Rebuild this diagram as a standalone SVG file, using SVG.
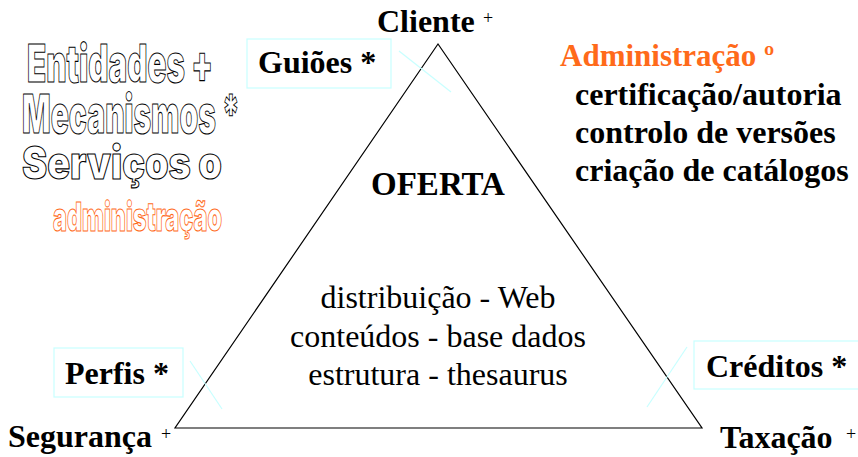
<svg xmlns="http://www.w3.org/2000/svg" width="858" height="457" viewBox="0 0 858 457">
<style>
.box{fill:none;stroke:#c8ffff;stroke-width:1.2}
.cl{stroke:#c8ffff;stroke-width:1.2;fill:none}
</style>
<rect width="858" height="457" fill="#fff"/>
<g id="connectors">
<polygon points="438,44 175,428 702,428" fill="none" stroke="#000" stroke-width="1.2"/>
<line class="cl" x1="399" y1="51" x2="451" y2="92"/>
<line class="cl" x1="190" y1="361" x2="222" y2="409"/>
<line class="cl" x1="687" y1="347" x2="647" y2="407"/>
</g>
<g id="title" font-family="Inter, Liberation Sans, Arial, sans-serif" font-weight="900" fill="#fff" stroke="#000" stroke-width="1.1">
<text x="27" y="82" font-size="52" textLength="186" lengthAdjust="spacingAndGlyphs">Entidades +</text>
<text x="22" y="133" font-size="53" textLength="218" lengthAdjust="spacingAndGlyphs">Mecanismos *</text>
<text x="22" y="179" font-size="45" textLength="200" lengthAdjust="spacingAndGlyphs">Serviços o</text>
<text x="53" y="231" font-size="40" textLength="169" lengthAdjust="spacingAndGlyphs" stroke="#ff6a1a">administração</text>
</g>
<g font-family="'Liberation Serif', 'Times New Roman', serif" font-weight="bold" font-size="32" fill="#000">
<g id="cliente">
<text x="377" y="32">Cliente</text>
<text x="483" y="24" font-size="18" font-weight="normal">+</text>
</g>
<g id="guioes">
<rect class="box" x="247" y="39" width="144" height="49"/>
<text x="258" y="73">Guiões *</text>
</g>
<g id="admin">
<text x="560" y="66" fill="#ff6a1a" font-size="31">Administração º</text>
<text x="575" y="105">certificação/autoria</text>
<text x="575" y="143">controlo de versões</text>
<text x="575" y="181">criação de catálogos</text>
</g>
<g id="oferta">
<text x="438" y="195" text-anchor="middle" font-size="33">OFERTA</text>
<g font-weight="normal" font-size="32">
<text x="438" y="308" text-anchor="middle">distribuição - Web</text>
<text x="438" y="347" text-anchor="middle">conteúdos - base dados</text>
<text x="438" y="385" text-anchor="middle">estrutura - thesaurus</text>
</g>
</g>
<g id="perfis">
<rect class="box" x="54" y="348" width="129" height="49"/>
<text x="65" y="384">Perfis *</text>
</g>
<g id="seguranca">
<text x="8" y="447">Segurança</text>
<text x="161" y="440" font-size="18" font-weight="normal">+</text>
</g>
<g id="creditos">
<rect class="box" x="694" y="341" width="170" height="48"/>
<text x="706" y="377">Créditos *</text>
</g>
<g id="taxacao">
<text x="720" y="448">Taxação</text>
<text x="846" y="440" font-size="18" font-weight="normal">+</text>
</g>
</g>
</svg>
